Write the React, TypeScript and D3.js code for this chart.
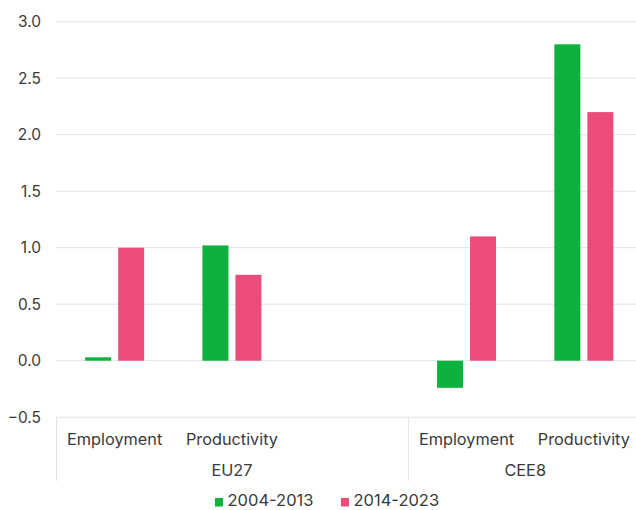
import React from "react";
import * as d3 from "d3";

const categories = ["EU27|Employment", "EU27|Productivity", "EU27|", "CEE8|Employment", "CEE8|Productivity"];
const groups = [
  { name: "EU27", from: 0, to: 3 },
  { name: "CEE8", from: 3, to: 5 },
];
const seriesNames = ["2004-2013", "2014-2023"];
const series2004_2013 = [0.03, 1.02, null, -0.24, 2.8];
const series2014_2023 = [1.0, 0.76, null, 1.1, 2.2];
const yTicks = [-0.5, 0, 0.5, 1.0, 1.5, 2.0, 2.5, 3.0];

const W = 636;
const H = 510;
const colors = ["#0db13d", "#eb4c7a"];
const FONT = "Inter, 'Noto Sans', sans-serif";
const TEXT = "#3a3a3a";

export default function App() {
  const x = d3.scaleBand<string>().domain(categories).range([56, 642.5]).padding(0);
  const y = d3.scaleLinear().domain([-0.5, 3.0]).range([417.2, 21.7]);
  const inner = d3.scaleBand<string>().domain(seriesNames).paddingInner(7 / 33).paddingOuter(0);
  const allSeries = [series2004_2013, series2014_2023];
  const fmt = d3.format(".1f");

  return (
    <svg width={W} height={H} style={{ position: "absolute", left: 0, top: 0, background: "#fff" }} fontFamily={FONT}>
      {yTicks.map((t) => (
        <g key={t}>
          <line x1={56} x2={W} y1={y(t)} y2={y(t)} stroke="#e3e3e3" strokeWidth={1} />
          <text x={41} y={y(t)} dy="0.36em" textAnchor="end" fontSize={15.5} fill={TEXT}>
            {fmt(t)}
          </text>
        </g>
      ))}
      {categories.map((c, i) => {
        const x0 = x(c)! + x.bandwidth() / 2;
        inner.range([x0 - 29.5, x0 + 29.5]);
        return allSeries.map((s, k) => {
          const v = s[i];
          if (v === null || v === undefined) return null;
          const bx = inner(seriesNames[k])!;
          return (
            <rect
              key={c + k}
              x={bx}
              width={inner.bandwidth()}
              y={y(Math.max(0, v))}
              height={Math.abs(y(v) - y(0))}
              fill={colors[k]}
            />
          );
        });
      })}
      {categories.map((c) => {
        const label = c.split("|")[1];
        if (!label) return null;
        return (
          <text key={"l" + c} x={x(c)! + x.bandwidth() / 2} y={439} dy="0.36em" textAnchor="middle" fontSize={16.3} fill={TEXT}>
            {label}
          </text>
        );
      })}
      {groups.map((g) => {
        const gx0 = x(categories[g.from])!;
        const gx1 = x(categories[g.to - 1])! + x.bandwidth();
        return (
          <g key={g.name}>
            <line x1={gx0 + 0.5} x2={gx0 + 0.5} y1={417} y2={481} stroke="#e3e3e3" />
            <text x={g.name === "EU27" ? x(categories[1])! + x.bandwidth() / 2 : (gx0 + gx1) / 2} y={470} dy="0.36em" textAnchor="middle" fontSize={16.3} fill={TEXT}>
              {g.name}
            </text>
          </g>
        );
      })}
      {seriesNames.map((s, k) => {
        const lx = [215, 341][k];
        return (
          <g key={s}>
            <rect x={lx} y={498} width={8} height={8.5} fill={colors[k]} />
            <text x={lx + 12.5} y={500} dy="0.36em" fontSize={16.5} fill={TEXT}>
              {s}
            </text>
          </g>
        );
      })}
    </svg>
  );
}
